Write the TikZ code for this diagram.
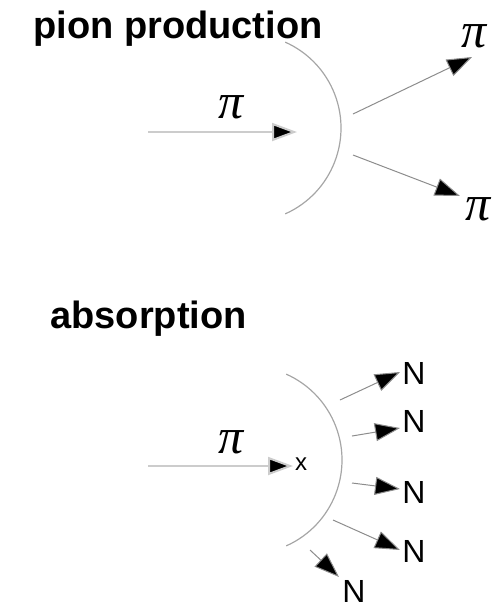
\documentclass[tikz,border=0pt]{standalone}
\usepackage{fontspec}
\setmainfont{Liberation Sans}
\newfontfamily\pifont{Liberation Serif}
\usetikzlibrary{arrows.meta}

\begin{document}
\begin{tikzpicture}[
x=0.5pt, y=-0.5pt,
title/.style={font=\fontsize{19}{21}\selectfont\bfseries, inner sep=0pt},
pilabel/.style={font=\fontsize{25}{27}\pifont\itshape, inner sep=0pt},
nlabel/.style={font=\fontsize{16}{18}\selectfont, inner sep=0pt},
shell/.style={draw=black!35, line width=0.6pt},
inarr/.style={draw=black!20, line width=1pt, -{Triangle[length=12.5pt, width=9pt, fill=black]}},
outarr/.style={draw=black!45, line width=0.5pt, -{Triangle[length=12.5pt, width=9pt, fill=black]}}
]
\useasboundingbox (0,0) rectangle (493,607);

% pion production
\node[title, anchor=base west] (tprod) at (33,38) {pion production};
\draw[shell] (247,128) ++(66:94) arc (66:-66:94);
\coordinate (pinstart) at (148,132);
\coordinate (pintip) at (297,132);
\node[pilabel] (piin) at (231,107) {π};
\draw[inarr] (pinstart) -- (pintip);
\coordinate (pupstart) at (353,114);
\coordinate (puptip) at (472,57);
\node[pilabel] (piup) at (474,36) {π};
\draw[outarr] (pupstart) -- (puptip);
\coordinate (pdnstart) at (353,155);
\coordinate (pdntip) at (460,196);
\node[pilabel] (pidn) at (478,209) {π};
\draw[outarr] (pdnstart) -- (pdntip);

% absorption
\node[title, anchor=base west] (tabs) at (50,328) {absorption};
\draw[shell] (248,460) ++(66:94) arc (66:-66:94);
\coordinate (ainstart) at (148,466);
\coordinate (aintip) at (293,466);
\node[pilabel] (piabs) at (231,442) {π};
\node[nlabel, font=\fontsize{12}{14}\selectfont] (vtx) at (301,464) {x};
\draw[inarr] (ainstart) -- (aintip);

\node[nlabel] (n1) at (414,373) {N};
\node[nlabel] (n2) at (414,421) {N};
\node[nlabel] (n3) at (414,492) {N};
\node[nlabel] (n4) at (414,551) {N};
\node[nlabel] (n5) at (354,591) {N};
\coordinate (s1) at (340,400); \coordinate (t1) at (400,372);
\coordinate (s2) at (352,436); \coordinate (t2) at (400,428);
\coordinate (s3) at (352,483); \coordinate (t3) at (400,489);
\coordinate (s4) at (333,520); \coordinate (t4) at (400,550);
\coordinate (s5) at (310,550); \coordinate (t5) at (339,577);
\foreach \i in {1,...,5}
  \draw[outarr] (s\i) -- (t\i);
\end{tikzpicture}
\end{document}
